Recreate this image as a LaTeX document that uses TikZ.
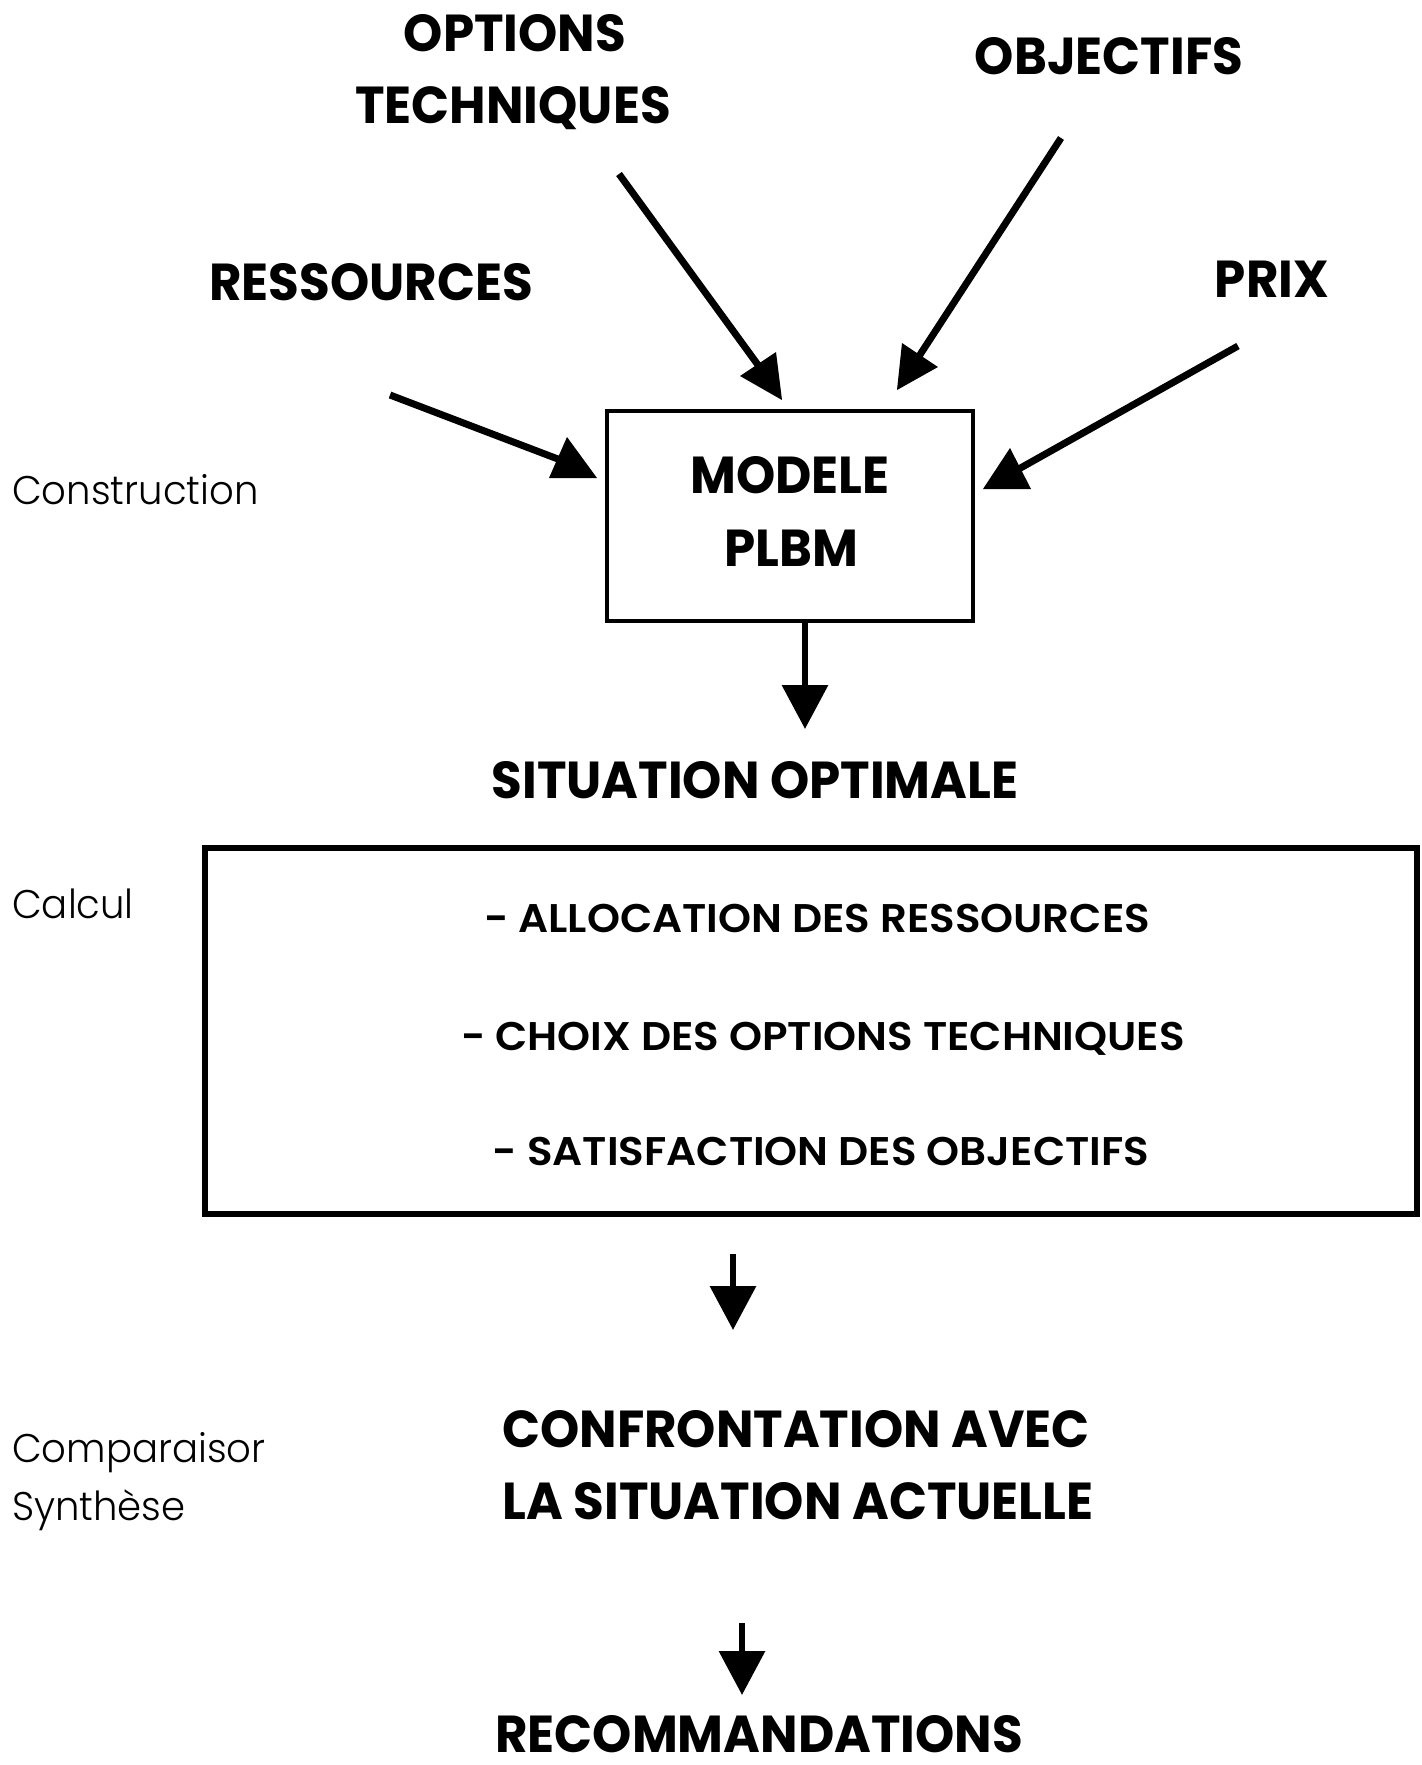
\documentclass[tikz,border=0pt]{standalone}
\usepackage{fontspec}
\setmainfont{Poppins}
\newfontfamily\headfont{Poppins}[UprightFont={* Bold},FakeStretch=0.96]
\newfontfamily\itemfont{Poppins}[UprightFont={* SemiBold},FakeStretch=1.05]
\newfontfamily\sidefont{Poppins}[UprightFont={* Light},FakeStretch=0.965]
\usetikzlibrary{arrows.meta}
\begin{document}
\begin{tikzpicture}[x=1pt,y=-1pt,
  head/.style={font=\headfont\fontsize{52}{60}\selectfont,inner sep=0pt,anchor=base},
  item/.style={font=\itemfont\fontsize{40}{50}\selectfont,inner sep=0pt,anchor=base},
  side/.style={font=\sidefont\fontsize{40}{48}\selectfont,inner sep=0pt,anchor=base west},
  feed/.style={line width=7pt},
  tip/.style={fill=black},
  down/.style={line width=6.5pt,-{Triangle[length=44pt,width=45pt]}},
  frame/.style={draw,inner sep=0pt}]
\useasboundingbox (0,0) rectangle (1422,1765);

% inputs of the model
\node[head] (opt1) at (515,51) {OPTIONS};
\node[head] (opt2) at (513,123) {TECHNIQUES};
\node[head] (obj) at (1109,74) {OBJECTIFS};
\node[head] (res) at (371,300) {RESSOURCES};
\node[head] (prix) at (1272,297) {PRIX};

% model box
\node[frame,line width=3.5pt,minimum width=366pt,minimum height=210pt] (box) at (790,516) {};
\node[head] (mod1) at (790,493) {MODELE};
\node[head] (mod2) at (791,566) {PLBM};

% incoming arrows: shaft from a free end, then a filled head
\coordinate (optS) at (619,174);  \coordinate (optE) at (766,376);
\coordinate (objS) at (1061,138); \coordinate (objE) at (912,367);
\coordinate (resS) at (390,395);  \coordinate (resE) at (571,464);
\coordinate (prixS) at (1238,346);\coordinate (prixE) at (1008,475);
\draw[feed] (optS) -- (optE);
\draw[feed] (objS) -- (objE);
\draw[feed] (resS) -- (resE);
\draw[feed] (prixS) -- (prixE);
\fill[tip] (782,400) -- (776,352) -- (740,376) -- cycle;
\fill[tip] (897,390) -- (902,343) -- (938,367) -- cycle;
\fill[tip] (597,478) -- (549,478) -- (567,437) -- cycle;
\fill[tip] (983,489) -- (1031,489) -- (1010,448) -- cycle;

% result of the computation
\coordinate (t1) at (805,729);
\draw[down] ([xshift=15pt]box.south) -- (t1);
\node[head] (sit) at (755,798) {SITUATION OPTIMALE};

\node[frame,line width=6pt,minimum width=1212pt,minimum height=366pt] (calc) at (811,1031) {};
\node[item] (i1) at (817,932) {- ALLOCATION DES RESSOURCES};
\node[item] (i2) at (823,1050) {- CHOIX DES OPTIONS TECHNIQUES};
\node[item] (i3) at (821,1165) {- SATISFACTION DES OBJECTIFS};

\coordinate (t2) at (733,1330);
\draw[down] ([xshift=-78pt,yshift=-37pt]calc.south) -- (t2);

\node[head] (conf1) at (796,1447) {CONFRONTATION AVEC};
\node[head] (conf2) at (798,1519) {LA SITUATION ACTUELLE};

\coordinate (s3) at (742,1623);
\coordinate (t3) at (742,1695);
\draw[down] (s3) -- (t3);
\node[head] (rec) at (759,1752) {RECOMMANDATIONS};

% phase labels
\node[side] (ph1) at (12,504) {Construction};
\node[side] (ph2) at (12,918) {Calcul};
\node[side] (ph3) at (12,1462) {Comparaisor};
\node[side] (ph4) at (12,1520) {Synthèse};
\end{tikzpicture}
\end{document}
